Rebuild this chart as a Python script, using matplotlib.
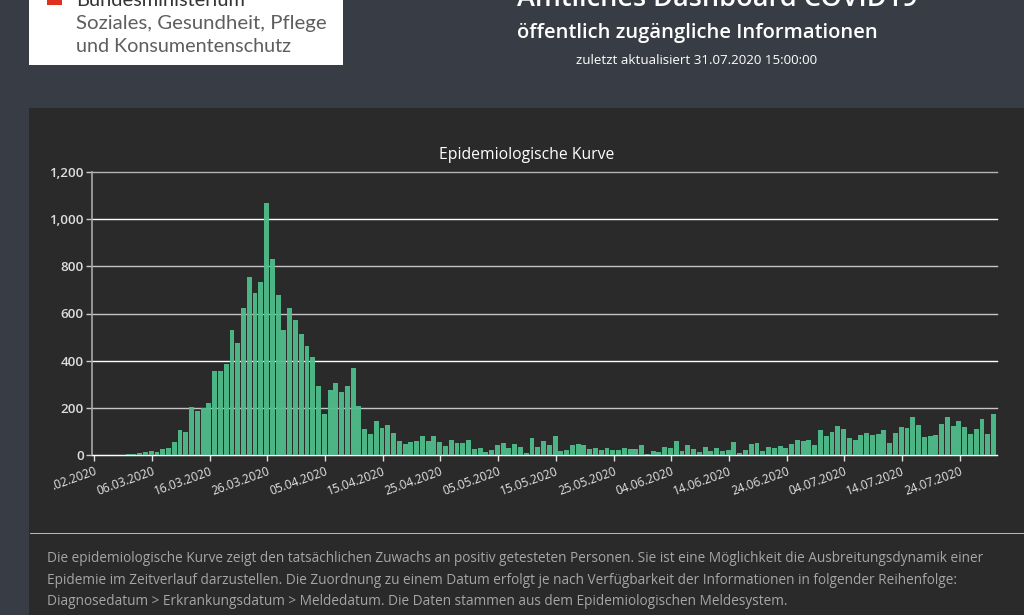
import numpy as np
import pandas as pd
import matplotlib
matplotlib.use('Agg')
import matplotlib.pyplot as plt
from matplotlib.patches import Rectangle
from matplotlib.transforms import ScaledTranslation

W, H = 1024, 615

# Cases per day
cases_feb = [0, 0, 0, 1, 0]
cases_mar = [0, 6, 6, 9, 13, 15, 13, 24, 30, 56, 108, 98, 205, 186, 198, 220, 358, 358, 385, 532, 475,
             625, 753, 688, 732, 1068, 831, 679, 532, 622, 571]
cases_apr = [512, 462, 415, 293, 173, 275, 306, 268, 292, 371, 208, 109, 88, 146, 116, 126, 95, 61,
             45, 57, 58, 79, 60, 81, 55, 38, 62, 51, 52, 64]
cases_may = [27, 28, 14, 21, 41, 50, 30, 45, 35, 8, 71, 35, 58, 41, 79, 15, 23, 44, 48, 42, 24,
             28, 23, 30, 23, 23, 31, 25, 24, 44, 3]
cases_jun = [16, 14, 33, 31, 58, 17, 41, 26, 13, 34, 17, 30, 16, 20, 54, 7, 21, 45, 52, 17, 34,
             28, 40, 30, 47, 62, 60, 62, 41, 104]
cases_jul = [82, 96, 123, 111, 74, 62, 85, 95, 86, 88, 105, 50, 92, 119, 113, 163, 126, 77, 82, 85,
             133, 160, 122, 143, 118, 88, 109, 152, 91, 174]

y_ticks = [0, 200, 400, 600, 800, 1000, 1200]
grid_colors = ['#ffffff', '#c4c4c4', '#ffffff', '#c4c4c4', '#c4c4c4', '#ffffff', '#b4b4b4']

footer_lines = [
    'Die epidemiologische Kurve zeigt den tatsächlichen Zuwachs an positiv getesteten Personen. Sie ist eine Möglichkeit die Ausbreitungsdynamik einer',
    'Epidemie im Zeitverlauf darzustellen. Die Zuordnung zu einem Datum erfolgt je nach Verfügbarkeit der Informationen in folgender Reihenfolge:',
    'Diagnosedatum > Erkrankungsdatum > Meldedatum. Die Daten stammen aus dem Epidemiologischen Meldesystem.',
]

PAGE = '#383d45'
PANEL = '#2a2a2a'


def px_rect(fig, x0, y0, x1, y1, color):
    # rectangle in picture pixels, y counted from the top
    fig.add_artist(Rectangle((x0 / W, 1 - y1 / H), (x1 - x0) / W, (y1 - y0) / H,
                             transform=fig.transFigure, facecolor=color, edgecolor='none', zorder=-1))


def px_text(fig, x, y, s, **kw):
    fig.text(x / W, 1 - y / H, s, **kw)


def draw_page(fig):
    px_rect(fig, 29, 108, W, H, PANEL)
    px_rect(fig, 29, 0, 343, 65, '#ffffff')
    px_rect(fig, 47, 0, 62, 5, '#e0301e')
    px_rect(fig, 30, 533, W, 534, '#b8b8b8')

    px_text(fig, 76, 0, 'Bundesministerium', family='Lato', fontsize=14.4, color='#333333', va='center')
    px_text(fig, 76, 23, 'Soziales, Gesundheit, Pflege', family='Lato', fontsize=14.7,
            color='#5e5e5e', va='center')
    px_text(fig, 76, 47, 'und Konsumentenschutz', family='Lato', fontsize=14.2,
            color='#5e5e5e', va='center')

    px_text(fig, 717, -1, 'Amtliches Dashboard COVID19', family='Open Sans', fontsize=19.5, weight='semibold',
            color='white', ha='center', va='center')
    px_text(fig, 697, 33, 'öffentlich zugängliche Informationen', family='Open Sans', fontsize=14.5,
            weight='semibold', color='white', ha='center', va='center')
    px_text(fig, 697, 60, 'zuletzt aktualisiert 31.07.2020 15:00:00', family='Open Sans', fontsize=9.6,
            color='white', ha='center', va='center')

    for y, line in zip([558.5, 580.5, 601.5], footer_lines):
        px_text(fig, 47, y, line, family='Open Sans', fontsize=9.82, color='#a6a6a6', va='center')


def plot_curve(fig):
    cases = np.array(cases_feb + cases_mar + cases_apr + cases_may + cases_jun + cases_jul)
    days = pd.date_range('2020-02-25', periods=len(cases))
    x = np.arange(len(cases))

    ax = fig.add_axes([92 / W, 1 - 455 / H, (997 - 92) / W, (455 - 172) / H])
    ax.set_facecolor('none')
    ax.bar(x, cases, width=0.85, color='#50bd8b', alpha=0.95, zorder=3)

    ax.set_xlim(-0.26, 156.6)
    ax.set_ylim(0, 1200)

    tick_idx = x[::10]
    labels = [d.strftime('%d.%m.%Y') for d in days[::10]]
    labels[0] = '.02.2020'  # cut off in the original
    ax.set_xticks(tick_idx + 0.14)
    ax.set_xticklabels(labels, rotation=20, ha='right', rotation_mode='anchor',
                       family='Open Sans', fontsize=8.6, color='#e4e4e4')
    shift = ScaledTranslation(-2.5 / 100, 0, fig.dpi_scale_trans)
    for lab in ax.get_xticklabels():
        lab.set_transform(lab.get_transform() + shift)
    ax.set_yticks(y_ticks)
    ax.set_yticklabels([f'{v:,}' for v in y_ticks], family='Open Sans', fontsize=9.6,
                       weight='semibold', color='#dddddd')
    ax.tick_params(axis='x', length=4, width=1, color='#e0e0e0', pad=3)
    ax.tick_params(axis='y', length=4, width=1, color='#cccccc', pad=2)

    for v, c in zip(y_ticks, grid_colors):
        ax.axhline(v, color=c, lw=1, zorder=2, clip_on=False)

    for side in ['top', 'right']:
        ax.spines[side].set_visible(False)
    ax.spines['left'].set_color('#a8a8a8')
    ax.spines['left'].set_linewidth(1.2)
    ax.spines['bottom'].set_color('#ffffff')

    ax.set_title('Epidemiologische Kurve', family='Open Sans', fontsize=11.3, color='white', pad=9.5, x=0.4805)


def main():
    fig = plt.figure(figsize=(W / 100, H / 100), dpi=100, facecolor=PAGE)
    draw_page(fig)
    plot_curve(fig)
    fig.savefig('out.png', dpi=100, facecolor=PAGE)


if __name__ == '__main__':
    main()
